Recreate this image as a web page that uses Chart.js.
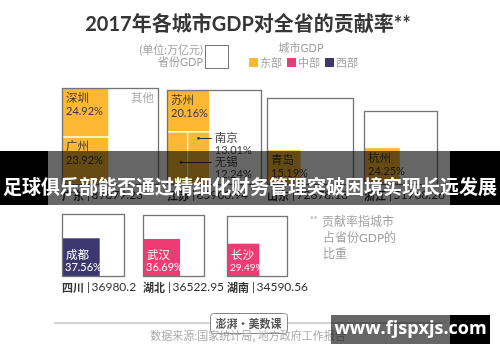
<!DOCTYPE html>
<html><head><meta charset="utf-8">
<script src="https://cdn.jsdelivr.net/npm/chart.js@4.4.1/dist/chart.umd.min.js"></script>
<style>
html,body{margin:0;padding:0;background:#fff;width:500px;height:362px;overflow:hidden}
#wrap{position:relative;width:500px;height:362px}
#c{position:absolute;left:0;top:0}
.ov{position:absolute}
#bL{left:0;top:151px;width:48px;height:54px;background:#000}
#bM{left:48px;top:151px;width:402px;height:54px;background:rgba(0,0,0,0.6)}
#bR{left:450px;top:151px;width:50px;height:54px;background:#000}
#bT{left:0;top:172px;width:500px;height:26px;line-height:26px;text-align:center;color:#fff;font:bold 19px 'Noto Sans CJK SC',sans-serif;white-space:nowrap}
#wM{left:331px;top:315px;width:119px;height:29px;background:rgba(0,0,0,0.6)}
#wR{left:450px;top:315px;width:40px;height:29px;background:#000}
#wT{left:331px;top:315px;width:159px;height:29px;line-height:29px;text-align:center;color:#fff;font:bold 18px 'Open Sans',sans-serif;white-space:nowrap}
</style></head>
<body><div id="wrap"><canvas id="c" width="500" height="362"></canvas>
<div class="ov" id="bL"></div><div class="ov" id="bM"></div><div class="ov" id="bR"></div>
<div class="ov" id="bT">足球俱乐部能否通过精细化财务管理突破困境实现长远发展</div>
<div class="ov" id="wM"></div><div class="ov" id="wR"></div>
<div class="ov" id="wT">www.fjspxjs.com</div>
</div>
<script>
// ---- data ----
const chartTitle = '2017年各城市GDP对全省的贡献率**';
const provinces = ['广东','江苏','山东','浙江','四川','湖北','湖南'];
const provinceGDP = [89879.23, 85900.94, 72678.18, 51768.26, 36980.2, 36522.95, 34590.56];
const provinceRegion = ['east','east','east','east','west','central','central'];
const cityNames = [['深圳','广州'],['苏州','南京','无锡'],['青岛'],['杭州'],['成都'],['武汉'],['长沙']];
const cityShares = [[24.92,23.92],[20.16,13.01,12.24],[15.19],[24.25],[37.56],[36.69],[29.49]];
const regionKeys = ['east','central','west'];
const regionNames = ['东部','中部','西部'];
const footnoteLines = ['贡献率指城市','占省份GDP的','比重'];
const sourceText = '数据来源:国家统计局, 地方政府工作报告';

// ---- styles / layout ----
const regionColor = {east:'#fcb833', central:'#ef3b73', west:'#3d3770'};
const slotLeft = [62,167,267,364,62,143,227];
const slotBottom = [184,184,184,184,276,276,276];
const SIDE_K = 0.32;
const CJK = "'Noto Sans CJK SC'";
const LAT = "Lato, 'Noto Sans CJK SC', sans-serif";

const gdpPlugin = {
  id:'gdpTree',
  afterDraw(chart){
    const {ctx} = chart; const sx = chart.scales.x, sy = chart.scales.y;
    const X = v => sx.getPixelForValue(v), Y = v => sy.getPixelForValue(v);
    const rectPx = (l,t,w,h) => [X(l),Y(t),X(l+w)-X(l),Y(t+h)-Y(t)];
    ctx.save();
    // title
    ctx.fillStyle='#363636'; ctx.textAlign='center'; ctx.textBaseline='middle';
    ctx.font='bold 20px '+LAT; ctx.fillText(chartTitle, X(248), Y(25));
    // legend
    ctx.font='11px '+LAT; ctx.fillStyle='#a0a0a0'; ctx.textAlign='right';
    ctx.fillText('(单位:万亿元)', X(203), Y(50)); ctx.fillText('省份GDP', X(203), Y(62));
    ctx.strokeStyle='#777'; ctx.lineWidth=1; ctx.strokeRect(X(205)+0.5,Y(45)+0.5,23,23);
    ctx.textAlign='center'; ctx.fillText('城市GDP', X(301), Y(48));
    const legX=[249,287,325];
    regionKeys.forEach((k,j)=>{
      ctx.fillStyle=regionColor[k]; ctx.fillRect(X(legX[j]),Y(58),9,9);
      ctx.fillStyle='#a0a0a0'; ctx.textAlign='left'; ctx.fillText(regionNames[j], X(legX[j]+11), Y(63));
    });
    // provinces
    provinces.forEach((p,i)=>{
      const side = SIDE_K*Math.sqrt(provinceGDP[i]);
      const L = slotLeft[i], B = slotBottom[i], T = B-side;
      const col = regionColor[provinceRegion[i]];
      const sh = cityShares[i].map(v=>v/100), names = cityNames[i];
      const sum = sh.reduce((a,b)=>a+b,0);
      const rects=[];
      if(sh.length===1){ const s=side*Math.sqrt(sh[0]); rects.push([L,B-s,s,s]); }
      else if(sh.length===2){ const w=side*sum; let t=T; sh.forEach(v=>{const h=side*v/sum; rects.push([L,t,w,h]); t+=h;}); }
      else { const w=side*sum; const h0=side*sh[0]/sum; rects.push([L,T,w,h0]);
        const wl=w*sh[2]/(sh[1]+sh[2]); rects[1]=[L+wl,T+h0,w-wl,side-h0]; rects[2]=[L,T+h0,wl,side-h0]; }
      ctx.fillStyle='#fff'; ctx.fillRect(...rectPx(L,T,side,side));
      ctx.fillStyle=col; rects.forEach(r=>ctx.fillRect(...rectPx(...r)));
      ctx.strokeStyle='#fff'; ctx.lineWidth=1;
      rects.forEach((r,k)=>{ if(k>0 || sh.length>1){ const [a,b,c,d]=rectPx(...r); ctx.strokeRect(a,b,c,d);} });
      ctx.strokeStyle='#747474'; ctx.lineWidth=1.3;
      const [pl,pt,pw,ph]=rectPx(L,T,side,side); ctx.strokeRect(Math.round(pl)+0.5,Math.round(pt)+0.5,Math.round(pw),Math.round(ph));
      // city labels
      const tc = provinceRegion[i]==='east' ? '#3a3a3a' : '#fff';
      ctx.textAlign='left'; ctx.textBaseline='top';
      const nIn = sh.length===3 ? 1 : sh.length;
      for(let k=0;k<nIn;k++){
        const [a,b,c,d]=rectPx(...rects[k]);
        ctx.fillStyle=tc;
        if(B>200){
          ctx.textBaseline='bottom';
          ctx.font='11.5px '+LAT; ctx.fillText(names[k], a+4, b+d-15);
          ctx.font=(c<34?'10px ':'11px ')+LAT; ctx.fillText(cityShares[i][k].toFixed(2)+'%', a+3, b+d-3);
        } else {
          ctx.textBaseline='top';
          ctx.font='11.5px '+LAT; ctx.fillText(names[k], a+4, b+4);
          ctx.font='11px '+LAT; ctx.fillText(cityShares[i][k].toFixed(2)+'%', a+4, b+18);
        }
      }
      if(sh.length===3){
        const tx = X(L+side)-46;
        [[1,6],[2,30]].forEach(([k,dy])=>{
          const [a,b,c]=rectPx(...rects[k]);
          const px = k===1? a+c/2 : a+c*0.68, py=b+dy;
          ctx.strokeStyle='#333'; ctx.lineWidth=1; ctx.beginPath(); ctx.moveTo(px,Math.round(py)+0.5); ctx.lineTo(tx-3,Math.round(py)+0.5); ctx.stroke();
          ctx.fillStyle='#333'; ctx.beginPath(); ctx.arc(px,py+0.5,1.3,0,Math.PI*2); ctx.fill();
          ctx.fillStyle='#444'; ctx.textBaseline='middle'; ctx.font='11.5px '+LAT; ctx.fillText(names[k], tx, py);
          ctx.font='11px '+LAT; ctx.fillText(cityShares[i][k].toFixed(2)+'%', tx, py+13);
        });
      }
      if(sh.length===2){
        ctx.fillStyle='#aaa'; ctx.textAlign='right'; ctx.textBaseline='top'; ctx.font='11.5px '+LAT;
        ctx.fillText('其他', X(L+side)-4, Y(T)+4);
      }
      // province label
      ctx.textAlign='left'; ctx.textBaseline='middle'; ctx.fillStyle='#333';
      const ly = Y(B)+11.5; let lx = X(L);
      ctx.font='bold 11px '+CJK; ctx.fillText(p, lx, ly); lx += ctx.measureText(p).width+3;
      ctx.font='12px '+LAT; ctx.fillText('|', lx, ly); lx += ctx.measureText('|').width+1.5;
      ctx.fillText(String(provinceGDP[i]), lx, ly);
    });
    // footnote
    ctx.fillStyle='#a0a0a0'; ctx.textAlign='left'; ctx.textBaseline='middle'; ctx.font='12px '+LAT;
    ctx.font='9px '+LAT; ctx.fillText('**', X(310), Y(220));
    ctx.font='12px '+LAT;
    ctx.fillText(footnoteLines[0], X(322), Y(222)); ctx.fillText(footnoteLines[1], X(323), Y(238)); ctx.fillText(footnoteLines[2], X(323), Y(254));
    // footer
    ctx.strokeStyle='#c4c4c4'; ctx.lineWidth=1.5;
    ctx.beginPath(); ctx.moveTo(X(54),Y(323)); ctx.lineTo(X(210),Y(323)); ctx.moveTo(X(288),Y(323)); ctx.lineTo(X(443),Y(323)); ctx.stroke();
    ctx.strokeStyle='#888'; ctx.lineWidth=1; ctx.beginPath(); ctx.roundRect(X(210)+0.5,Y(313)+0.5,77,20,3); ctx.stroke();
    ctx.fillStyle='#555'; ctx.textAlign='center'; ctx.font='bold 11px '+CJK; ctx.fillText('澎湃·美数课', X(248.5), Y(323.5));
    ctx.fillStyle='#aaa'; ctx.font='11px '+CJK; ctx.fillText(sourceText, X(248), Y(336));
    ctx.restore();
  }
};

new Chart(document.getElementById('c'), {
  type:'scatter',
  data:{datasets:[{data:[]}]},
  options:{
    responsive:false, animation:false, events:[],
    layout:{padding:0},
    plugins:{legend:{display:false}, tooltip:{enabled:false}, title:{display:false}},
    scales:{
      x:{type:'linear', min:0, max:500, display:false},
      y:{type:'linear', min:0, max:362, reverse:true, display:false}
    }
  },
  plugins:[gdpPlugin]
});
</script></body></html>
